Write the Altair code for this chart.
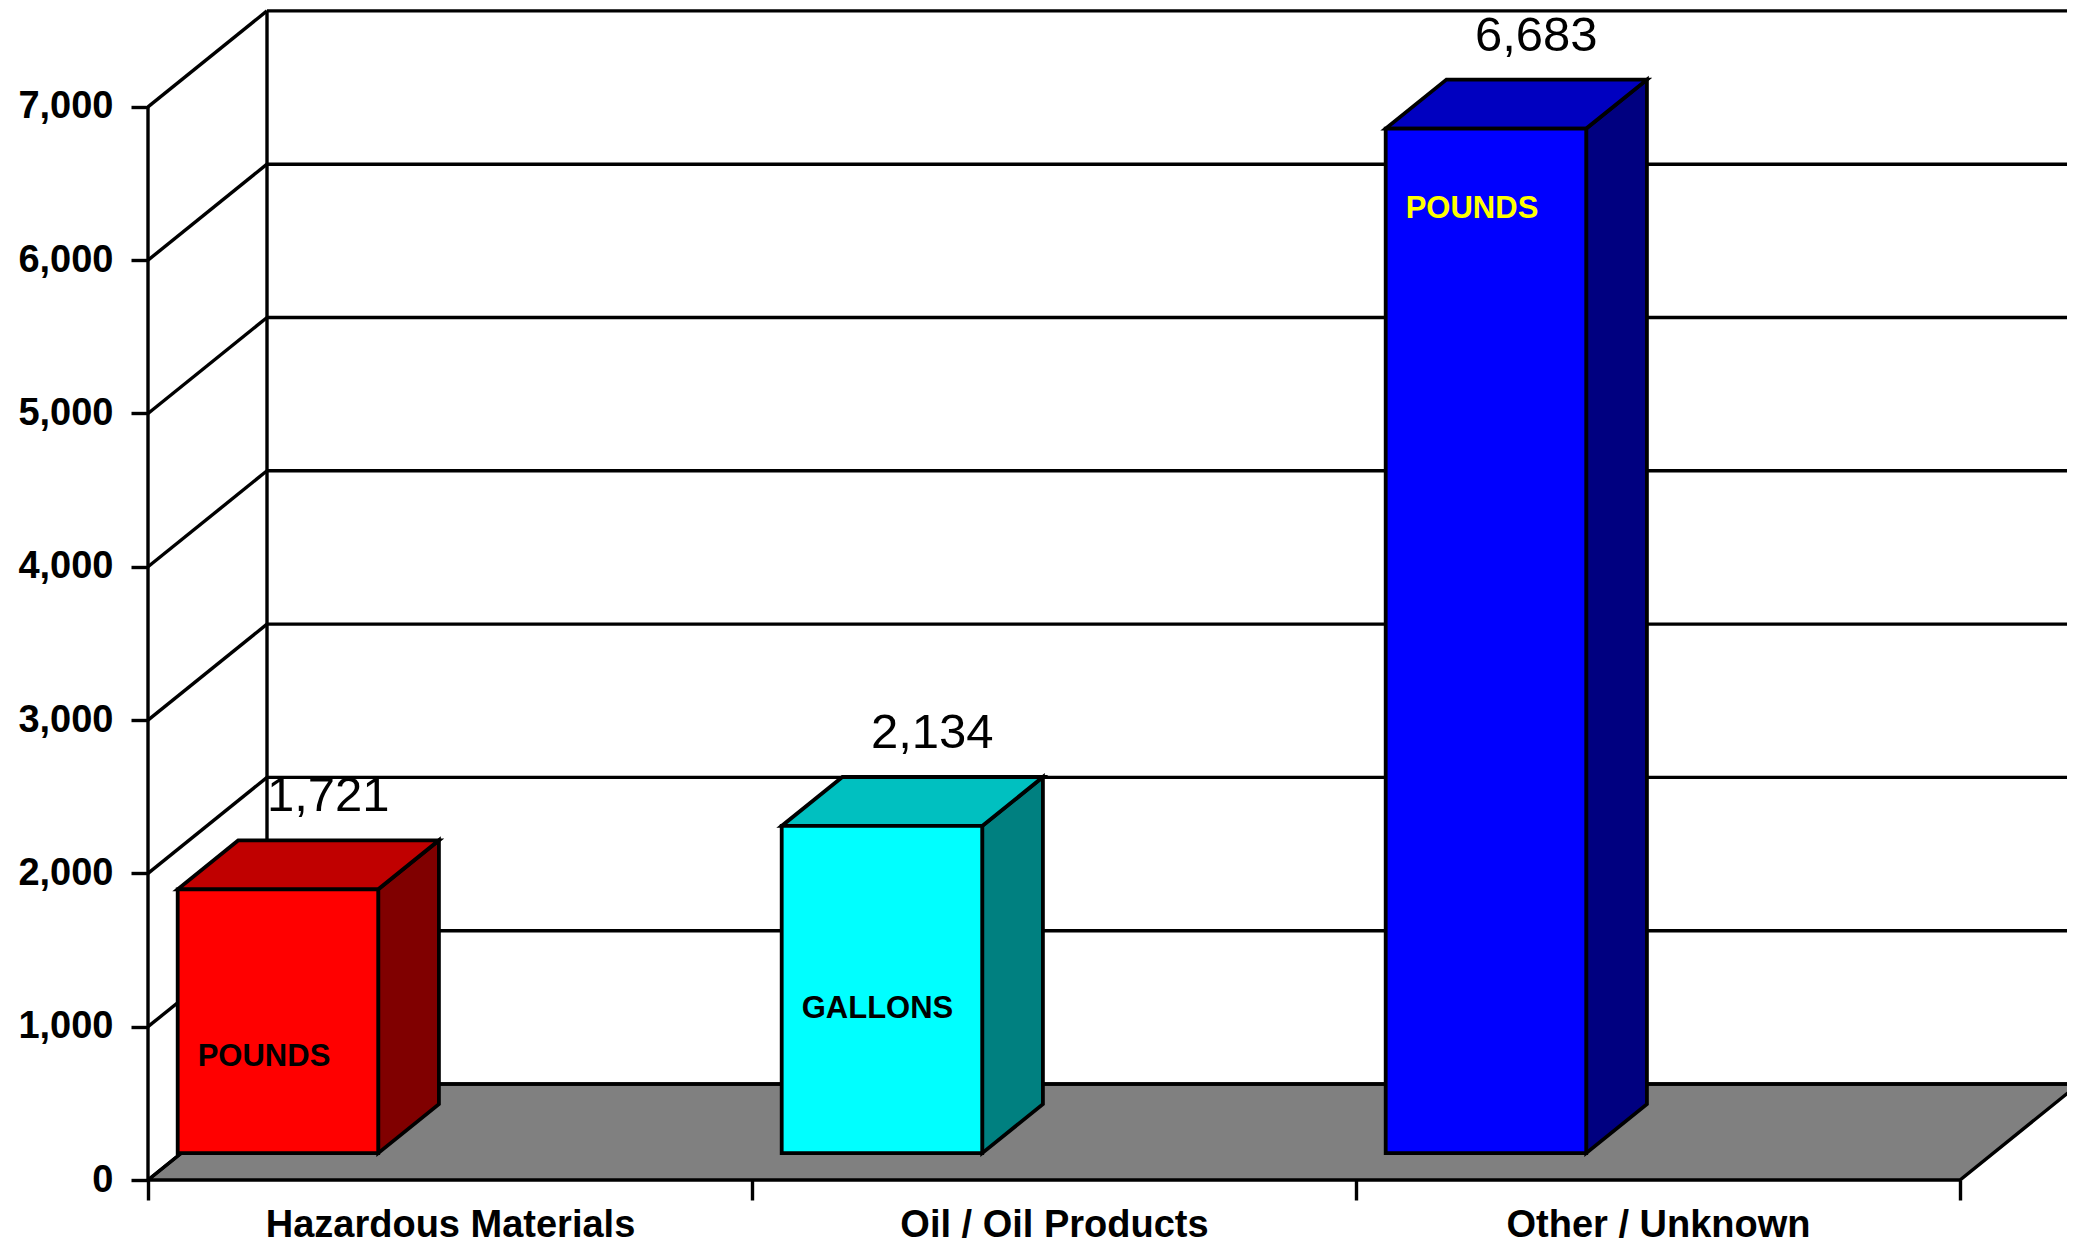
import altair as alt
import pandas as pd

# ---------------- data ----------------
categories = ["Hazardous Materials", "Oil / Oil Products", "Other / Unknown"]
values = [1721, 2134, 6683]
units = ["POUNDS", "GALLONS", "POUNDS"]
y_ticks = [0, 1000, 2000, 3000, 4000, 5000, 6000, 7000]

# ---------------- styles ----------------
front_colors = ["#FF0000", "#00FFFF", "#0000FF"]
top_colors = ["#C00000", "#00C0C0", "#0000C0"]
side_colors = ["#800000", "#008080", "#000080"]
unit_colors = ["#000000", "#000000", "#FFFF00"]
# manual annotation anchors for the unit text boxes (in value units)
unit_label_at = [570, 880, 6100]

FONT = "Liberation Sans"
LW = 3.4

# ---------------- geometry of the pseudo-3D frame ----------------
W, H = 1919, 1172
PX_PER_CAT = 604.0
X_MAX = W / PX_PER_CAT
Y_MAX = 7645.0
PX_PER_VAL = H / Y_MAX
DX = 119 / PX_PER_CAT          # full depth, x units
DY = 96 / PX_PER_VAL           # full depth, value units
F1, F2 = 0.28, 0.79            # bar front / back depth fractions
BAR_OFF, BAR_W = -0.006, 0.332
N = len(categories)
TOP = y_ticks[-1]
dd = (F2 - F1) * DX

xs = alt.Scale(domain=[0, X_MAX], nice=False, zero=False)
ys = alt.Scale(domain=[0, Y_MAX], nice=False, zero=False)

tick_vals = []
for i in range(N):
    tick_vals += [i, i + 0.5]
tick_vals.append(N)
label_expr = " : ".join(
    [f"datum.value == {i + 0.5} ? '{c}'" for i, c in enumerate(categories)]
) + " : ''"

X_AX = alt.Axis(
    values=tick_vals, labelExpr=label_expr, title=None, domain=False, grid=False,
    tickSize=20, tickWidth=LW, tickColor="black",
    tickOpacity={"condition": {"test": "datum.value % 1 != 0", "value": 0}, "value": 1},
    labelFont=FONT, labelFontSize=38, labelFontWeight="bold", labelColor="black",
    labelPadding=6, labelFlush=False, labelOverlap=False, labelBaseline="top",
    labelLimit=0,
)
Y_AX = alt.Axis(
    values=y_ticks, labelExpr="format(datum.value, ',')", title=None, domain=False,
    grid=False, tickSize=17, tickWidth=LW, tickColor="black",
    labelFont=FONT, labelFontSize=38, labelFontWeight="bold", labelColor="black",
    labelPadding=18, labelFlush=False, labelOverlap=False, labelLimit=0,
)


def X(f="x"):
    return alt.X(f"{f}:Q", scale=xs, axis=X_AX)


def Y(f="y"):
    return alt.Y(f"{f}:Q", scale=ys, axis=Y_AX)


# floor
floor_df = pd.DataFrame({"x": [0, DX], "x2": [N, N + DX], "y": [0, DY]})
floor = alt.Chart(floor_df).mark_area(
    orient="horizontal", fill="#808080", stroke="black", strokeWidth=LW, strokeJoin="miter"
).encode(y=Y(), x=X(), x2="x2:Q")

# back wall gridlines
grid_df = pd.DataFrame({"y": [t + DY for t in y_ticks], "x": DX, "x2": N + DX + 0.3})
grid = alt.Chart(grid_df).mark_rule(color="black", strokeWidth=LW).encode(
    x=X(), x2="x2:Q", y=Y()
)

# side wall diagonals
diag_df = pd.DataFrame({"x": 0.0, "x2": DX, "y": y_ticks, "y2": [t + DY for t in y_ticks]})
diag = alt.Chart(diag_df).mark_rule(color="black", strokeWidth=LW).encode(
    x=X(), x2="x2:Q", y=Y(), y2="y2:Q"
)

# front axis line and back wall edge
vert_df = pd.DataFrame({"x": [0.0, DX], "y": [0.0, DY], "y2": [TOP, TOP + DY]})
vert = alt.Chart(vert_df).mark_rule(color="black", strokeWidth=LW).encode(
    x=X(), y=Y(), y2="y2:Q"
)

# bars
front_rows, side_rows, top_rows, vlab_rows, ulab_rows = [], [], [], [], []
for i, (c, v) in enumerate(zip(categories, values)):
    xl = i + BAR_OFF + F1 * DX
    xr = xl + BAR_W
    front_rows.append({"cat": c, "x": xl, "x2": xr, "y": F1 * DY, "y2": v + F1 * DY,
                       "fill": front_colors[i]})
    side_rows += [
        {"cat": c, "x": xr, "y": F1 * DY, "y2": v + F1 * DY, "fill": side_colors[i]},
        {"cat": c, "x": xr + dd, "y": F2 * DY, "y2": v + F2 * DY, "fill": side_colors[i]},
    ]
    top_rows += [
        {"cat": c, "y": v + F1 * DY, "x": xl, "x2": xr, "fill": top_colors[i]},
        {"cat": c, "y": v + F2 * DY, "x": xl + dd, "x2": xr + dd, "fill": top_colors[i]},
    ]
    vlab_rows.append({"cat": c, "x": xl + BAR_W / 2 + dd / 2, "y": v + F2 * DY, "v": v})
    ulab_rows.append({"cat": c, "x": xl, "y": unit_label_at[i] + F1 * DY,
                      "unit": units[i], "ucol": unit_colors[i]})

side = alt.Chart(pd.DataFrame(side_rows)).mark_area(
    orient="vertical", stroke="black", strokeWidth=3.8, strokeJoin="miter"
).encode(x=X(), y=Y(), y2="y2:Q", detail="cat:N", fill=alt.Fill("fill:N", scale=None))

top = alt.Chart(pd.DataFrame(top_rows)).mark_area(
    orient="horizontal", stroke="black", strokeWidth=3.8, strokeJoin="miter"
).encode(y=Y(), x=X(), x2="x2:Q", detail="cat:N", fill=alt.Fill("fill:N", scale=None))

front = alt.Chart(pd.DataFrame(front_rows)).mark_rect(
    stroke="black", strokeWidth=3.8, strokeJoin="miter"
).encode(x=X(), x2="x2:Q", y=Y(), y2="y2:Q", fill=alt.Fill("fill:N", scale=None))

vlabels = alt.Chart(pd.DataFrame(vlab_rows)).mark_text(
    font=FONT, fontSize=49, color="black", align="center", baseline="alphabetic",
    dx=20, dy=-29
).encode(x=X(), y=Y(), text=alt.Text("v:Q", format=","))

ulabels = alt.Chart(pd.DataFrame(ulab_rows)).mark_text(
    font=FONT, fontSize=31, fontWeight="bold", align="left", baseline="alphabetic", dx=20
).encode(x=X(), y=Y(), text="unit:N", color=alt.Color("ucol:N", scale=None))

chart = alt.layer(
    floor, grid, diag, vert, side, top, front, vlabels, ulabels
).properties(
    width=W, height=H,
    padding={"left": 140, "top": 0, "right": 0, "bottom": 64},
    autosize=alt.AutoSizeParams(type="none"),
    background="white",
).configure_view(stroke=None)

chart.save("out.html", embed_options={"renderer": "svg", "actions": False})
